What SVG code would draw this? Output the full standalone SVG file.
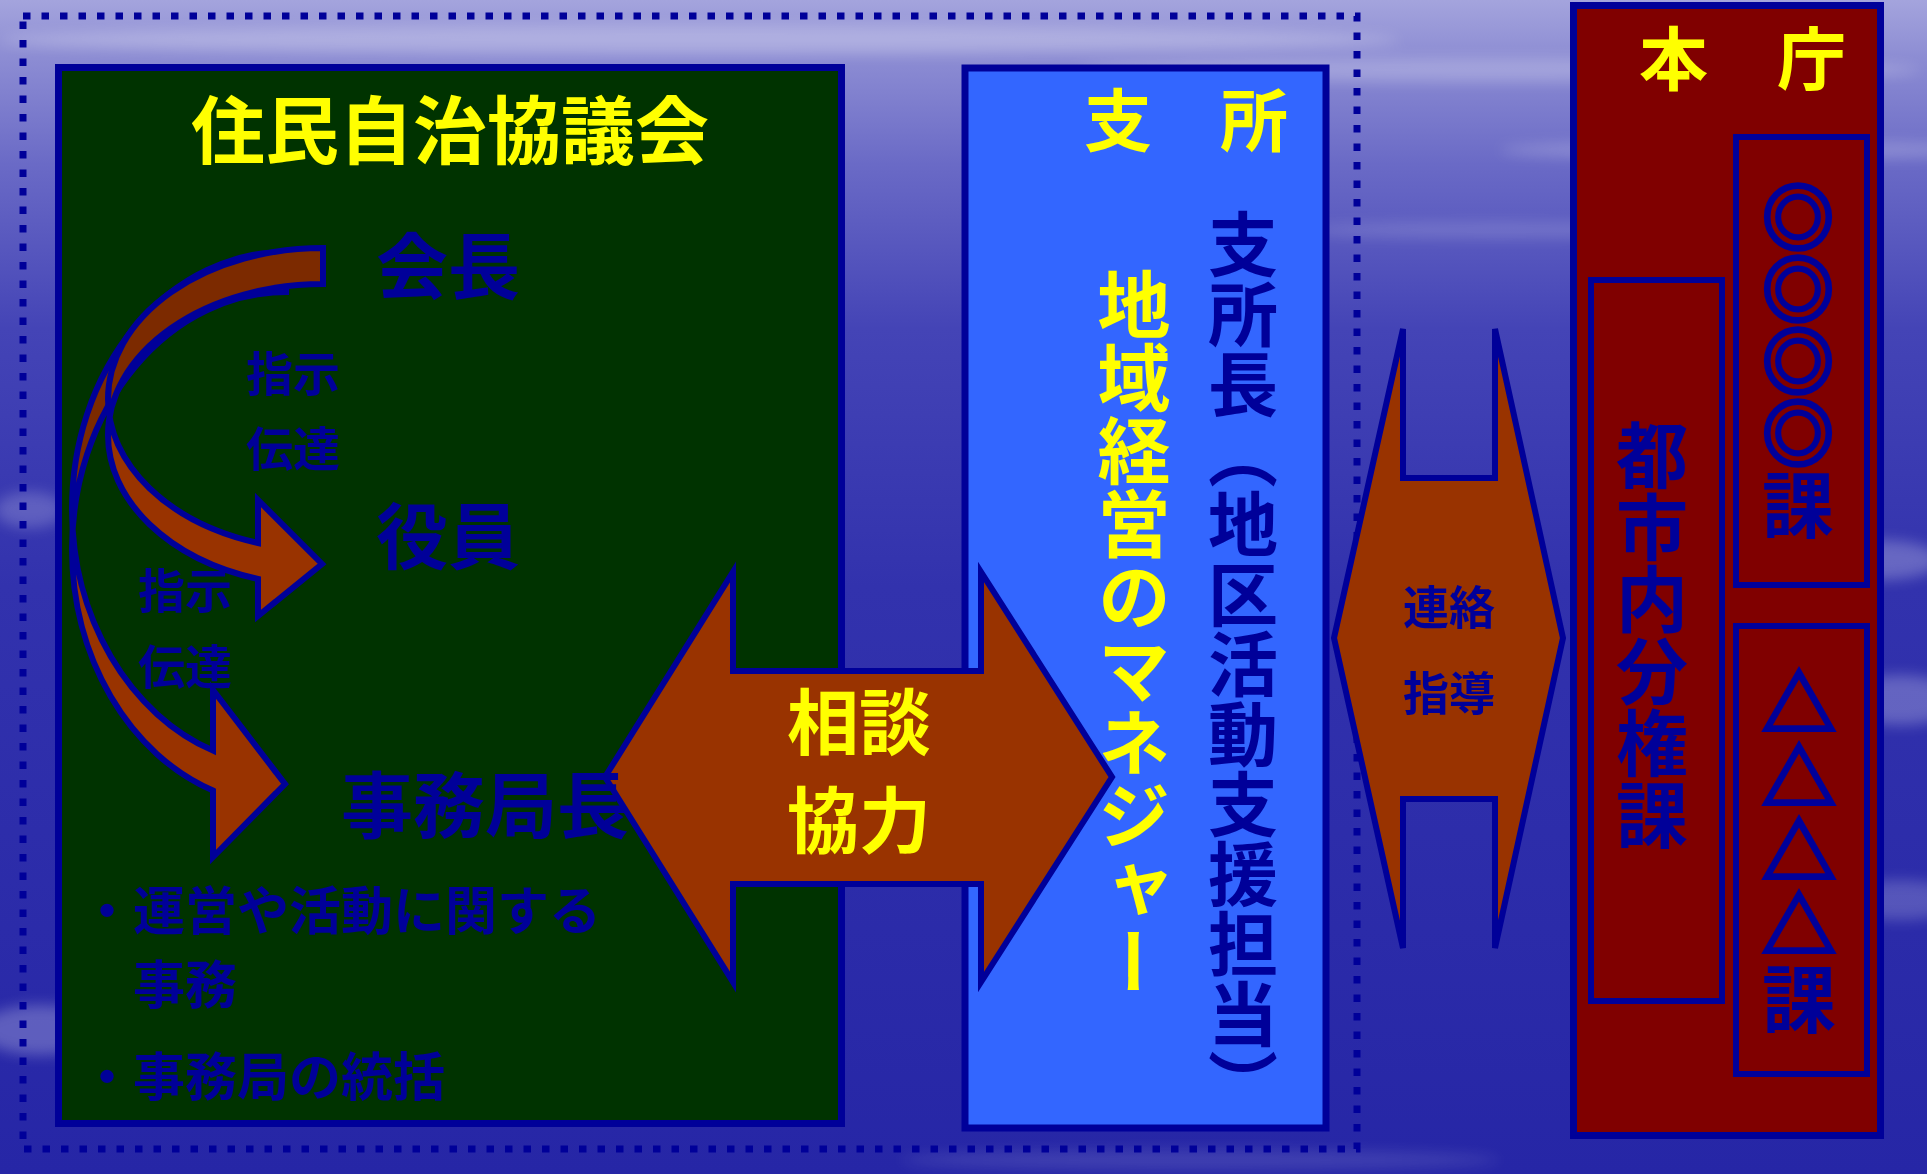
<svg xmlns="http://www.w3.org/2000/svg" width="1927" height="1174" viewBox="0 0 1927 1174">
<defs>
<linearGradient id="bg" x1="0" y1="0" x2="0" y2="1">
<stop offset="0" stop-color="#a4a4dd"/>
<stop offset="0.05" stop-color="#8c8cd3"/>
<stop offset="0.14" stop-color="#6a6ac6"/>
<stop offset="0.28" stop-color="#4444b6"/>
<stop offset="0.5" stop-color="#3232ad"/>
<stop offset="1" stop-color="#2626a6"/>
</linearGradient>
<filter id="blur" x="-20%" y="-200%" width="140%" height="500%"><feGaussianBlur stdDeviation="7"/></filter>
<style>
.jp{font-family:"Noto Sans CJK JP","Noto Sans CJK SC",sans-serif;font-weight:bold;}
.yel{fill:#ffff00;}
.dk{fill:#000099;}
.sym{stroke:#000099;stroke-width:3.5;}
.box{stroke:#000099;stroke-width:7;}
.arr{stroke:#000099;stroke-width:6;stroke-linejoin:miter;fill:none;}
.front{fill:#993300;}
.back{fill:#7c2a00;}
.vt{writing-mode:vertical-rl;}
</style>
</defs>
<g id="background">
<rect x="0" y="0" width="1927" height="1174" fill="url(#bg)"/>
<g filter="url(#blur)" fill="#ffffff">
<ellipse cx="700" cy="40" rx="700" ry="14" opacity="0.25"/>
<ellipse cx="1500" cy="70" rx="420" ry="12" opacity="0.22"/>
<ellipse cx="1750" cy="150" rx="250" ry="10" opacity="0.2"/>
<ellipse cx="1500" cy="230" rx="200" ry="8" opacity="0.15"/>
<ellipse cx="1880" cy="560" rx="60" ry="20" opacity="0.25"/>
<ellipse cx="1450" cy="680" rx="90" ry="14" opacity="0.18"/>
<ellipse cx="1900" cy="700" rx="60" ry="25" opacity="0.25"/>
<ellipse cx="1900" cy="900" rx="60" ry="20" opacity="0.2"/>
<ellipse cx="30" cy="510" rx="35" ry="18" opacity="0.2"/>
<ellipse cx="40" cy="1030" rx="60" ry="25" opacity="0.25"/>
<ellipse cx="1200" cy="1160" rx="300" ry="10" opacity="0.12"/>
</g>
</g>
<rect id="region" x="23" y="16" width="1334" height="1133" fill="none" stroke="#000099" stroke-width="7" stroke-dasharray="7.5 11"/>
<g id="kyogikai">
<rect x="58.5" y="67.5" width="783" height="1056" fill="#003300" class="box"/>
<text class="jp yel" x="450" y="158" font-size="74" text-anchor="middle">住民自治協議会</text>
</g>
<g id="shisho">
<rect x="965" y="68" width="361" height="1060" fill="#3366ff" class="box"/>
<text class="jp yel" x="1084" y="146" font-size="68">支　所</text>
</g>
<g id="honcho">
<rect x="1573.5" y="5.5" width="307" height="1130" fill="#800000" class="box"/>
<text class="jp yel" x="1639" y="85" font-size="69">本　庁</text>
</g>
<g id="ka-maru">
<rect x="1736" y="137" width="131" height="448" fill="#800000" stroke="#000099" stroke-width="6"/>
<text class="jp dk vt" x="1798" y="181" font-size="72"><tspan class="sym">◎◎◎◎</tspan>課</text>
</g>
<g id="toshinai">
<rect x="1591" y="280" width="131" height="721" fill="#800000" stroke="#000099" stroke-width="6"/>
<text class="jp dk vt" x="1652" y="419" font-size="72">都市内分権課</text>
</g>
<g id="ka-sankaku">
<rect x="1736" y="626" width="131" height="448" fill="#800000" stroke="#000099" stroke-width="6"/>
<text class="jp dk vt" x="1799" y="666" font-size="74"><tspan class="sym">△△△△</tspan>課</text>
</g>
<g id="connectors">
<g id="arrow-jimukyoku">
<path class="front" d="M72,509 A214,257 0 0,0 213,750.6 L213,690 L285,784 L213,857 L213,790.6 A214,257 0 0,1 72,549 Z"/>
<path class="back" d="M286,252 A214,257 0 0,0 72,509 L72,549 A214,257 0 0,1 286,292 Z"/>
<path class="arr" d="M72,509 A214,257 0 0,0 213,750.6 L213,690 L285,784 L213,857 L213,790.6 A214,257 0 0,1 72,549 A214,257 0 0,1 286,292 L286,252 A214,257 0 0,0 72,509 Z"/>
</g>
<g id="arrow-yakuin">
<path class="front" d="M108,399 A215,151 0 0,0 258,543 L258,500 L322,564 L258,616 L258,579 A215,151 0 0,1 108,435 Z"/>
<path class="back" d="M323,248 A215,151 0 0,0 108,399 L108,435 A215,151 0 0,1 323,284 Z"/>
<path class="arr" d="M108,399 A215,151 0 0,0 258,543 L258,500 L322,564 L258,616 L258,579 A215,151 0 0,1 108,435 A215,151 0 0,1 323,284 L323,248 A215,151 0 0,0 108,399 Z"/>
</g>
<g id="arrow-sodan">
<path d="M605,777 L733,572 L733,671 L981,671 L981,572 L1112,777 L981,982 L981,884 L733,884 L733,982 Z" fill="#993300" stroke="#000099" stroke-width="6"/>
<text class="jp yel" x="859" y="749" font-size="72" text-anchor="middle">相談</text>
<text class="jp yel" x="859" y="847" font-size="72" text-anchor="middle">協力</text>
</g>
<g id="arrow-renraku">
<path d="M1334,638 L1403,329 L1403,478 L1495,478 L1495,329 L1563,638 L1495,948 L1495,799 L1403,799 L1403,948 Z" fill="#993300" stroke="#000099" stroke-width="6"/>
<text class="jp dk" x="1449" y="624" font-size="46" text-anchor="middle">連絡</text>
<text class="jp dk" x="1449" y="710" font-size="46" text-anchor="middle">指導</text>
</g>
<text class="jp dk" x="246" y="391" font-size="47">指示</text>
<text class="jp dk" x="246" y="466" font-size="47">伝達</text>
<text class="jp dk" x="138" y="608" font-size="47">指示</text>
<text class="jp dk" x="138" y="684" font-size="47">伝達</text>
</g>
<g id="kaicho"><text class="jp dk" x="376" y="293" font-size="72">会長</text></g>
<g id="yakuin"><text class="jp dk" x="376" y="563" font-size="72">役員</text></g>
<g id="jimukyokucho">
<text class="jp dk" x="341" y="832" font-size="72">事務局長</text>
<text class="jp dk" x="81" y="930" font-size="52">・運営や活動に関する</text>
<text class="jp dk" x="133" y="1004" font-size="52">事務</text>
<text class="jp dk" x="81" y="1096" font-size="52">・事務局の統括</text>
</g>
<g id="shishocho">
<text class="jp dk vt" x="1243" y="209" font-size="70">支所長（地区活動支援担当）</text>
<text class="jp yel vt" x="1134" y="268" font-size="73">地域経営のマネジャー</text>
</g>
</svg>
